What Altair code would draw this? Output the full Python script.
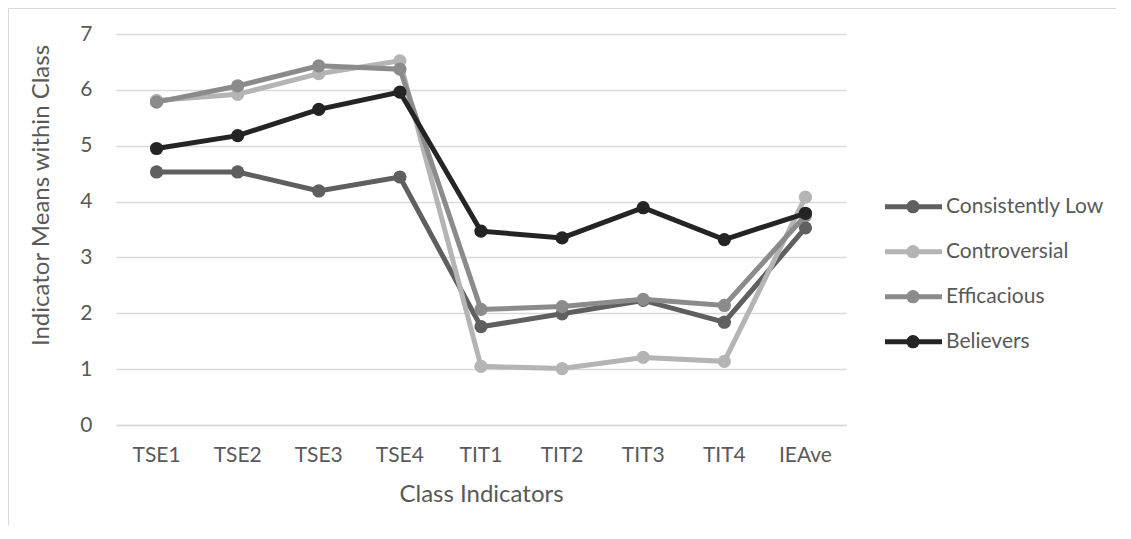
import altair as alt
import pandas as pd

categories = ["TSE1", "TSE2", "TSE3", "TSE4", "TIT1", "TIT2", "TIT3", "TIT4", "IEAve"]
series_names = ["Consistently Low", "Controversial", "Efficacious", "Believers"]
series_colors = ["#5f5f5f", "#b4b4b4", "#8b8b8b", "#242424"]

consistently_low = [4.53, 4.53, 4.19, 4.44, 1.76, 1.99, 2.23, 1.84, 3.53]
controversial = [5.81, 5.92, 6.29, 6.52, 1.05, 1.01, 1.21, 1.14, 4.08]
efficacious = [5.78, 6.07, 6.43, 6.37, 2.07, 2.12, 2.25, 2.14, 3.75]
believers = [4.95, 5.18, 5.65, 5.96, 3.47, 3.35, 3.89, 3.32, 3.79]

series_values = [consistently_low, controversial, efficacious, believers]

FONT = "Lato"
TEXT_COLOR = "#595959"

rows = []
for name, vals in zip(series_names, series_values):
    for cat, v in zip(categories, vals):
        rows.append({"series": name, "indicator": cat, "value": v})
df = pd.DataFrame(rows)

color_scale = alt.Scale(domain=series_names, range=series_colors)

x_enc = alt.X(
    "indicator:N",
    sort=categories,
    scale=alt.Scale(type="band", domain=categories, paddingInner=0, paddingOuter=0),
    axis=alt.Axis(
        title="Class Indicators",
        labelAngle=0,
        grid=False,
        ticks=False,
        tickSize=0,
        domain=True,
        domainColor="#d9d9d9",
        domainWidth=1.3,
        labelPadding=30,
        labelBaseline="middle",
        labelFont=FONT,
        labelFontSize=21,
        labelColor=TEXT_COLOR,
        titleFont=FONT,
        titleFontSize=24,
        titleFontWeight="normal",
        titleColor=TEXT_COLOR,
        titleBaseline="middle",
        titleY=69,
    ),
)

y_enc = alt.Y(
    "value:Q",
    scale=alt.Scale(domain=[0, 7], nice=False, zero=True),
    axis=alt.Axis(
        title="Indicator Means within Class",
        values=[0, 1, 2, 3, 4, 5, 6, 7],
        format="d",
        grid=True,
        gridColor="#d9d9d9",
        gridWidth=1.3,
        domain=False,
        ticks=False,
        tickSize=0,
        labelPadding=24,
        labelFont=FONT,
        labelFontSize=21,
        labelColor=TEXT_COLOR,
        titleFont=FONT,
        titleFontSize=24,
        titleFontWeight="normal",
        titleColor=TEXT_COLOR,
        titleAngle=-90,
        titleAlign="center",
        titleBaseline="middle",
        titleX=-75,
        titleY=161,
    ),
)

series_layers = []
for i, name in enumerate(series_names):
    sub = df[df["series"] == name]
    base = alt.Chart(sub)
    line = base.mark_line(strokeWidth=5).encode(
        x=x_enc if i == 0 else alt.X("indicator:N", sort=categories),
        y=y_enc if i == 0 else alt.Y("value:Q"),
        color=alt.Color("series:N", scale=color_scale, legend=None),
    )
    pts = base.mark_circle(size=175, opacity=1).encode(
        x=alt.X("indicator:N", sort=categories),
        y=alt.Y("value:Q"),
        color=alt.Color("series:N", scale=color_scale, legend=None),
    )
    series_layers.extend([line, pts])

main = alt.layer(*series_layers)

legend_df = pd.DataFrame({"series": series_names})
leg_y = alt.Y(
    "series:N",
    scale=alt.Scale(type="point", domain=series_names, range=[172.7, 307.7], padding=0),
    axis=None,
)
leg_base = alt.Chart(legend_df)
leg_rule = leg_base.mark_rule(strokeWidth=5).encode(
    x=alt.value(769), x2=alt.value(826), y=leg_y,
    color=alt.Color("series:N", scale=color_scale, legend=None),
)
leg_pt = leg_base.mark_circle(size=175, opacity=1).encode(
    x=alt.value(797), y=leg_y,
    color=alt.Color("series:N", scale=color_scale, legend=None),
)
leg_text = leg_base.mark_text(
    align="left", baseline="middle", font=FONT, fontSize=21, color=TEXT_COLOR
).encode(x=alt.value(830), y=leg_y, text="series:N")
legend = alt.layer(leg_rule, leg_pt, leg_text)

deco = alt.Data(values=[{}])
border_top = alt.Chart(deco).mark_rule(color="#d9d9d9", strokeWidth=1).encode(
    x=alt.value(-107.5), x2=alt.value(1010), y=alt.value(-25.5)
)
border_left = alt.Chart(deco).mark_rule(color="#d9d9d9", strokeWidth=1).encode(
    x=alt.value(-107.5), y=alt.value(-25.5), y2=alt.value(497)
)

chart = (
    alt.layer(border_top, border_left, main, legend)
    .resolve_scale(y="independent")
    .properties(
        width=730,
        height=391,
        autosize=alt.AutoSizeParams(type="none"),
        padding={"left": 108, "top": 26, "right": 270, "bottom": 100},
    )
    .configure_view(stroke=None)
)

chart.save("out.html", embed_options={"renderer": "svg", "actions": False})
